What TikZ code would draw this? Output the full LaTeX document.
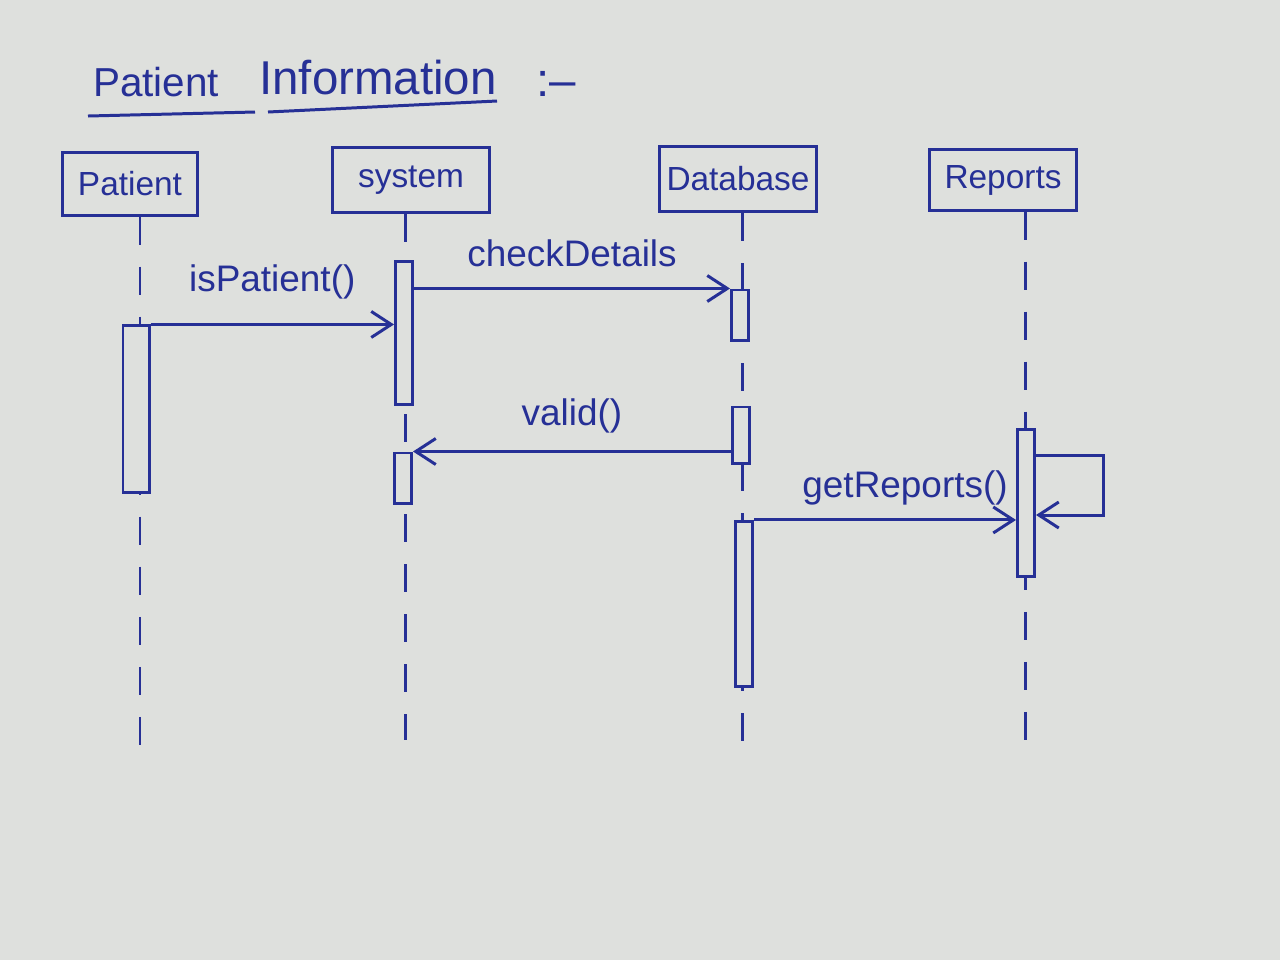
\documentclass[tikz,border=0pt]{standalone}
\usepackage{fontspec}
\setmainfont{Liberation Sans}
\usetikzlibrary{arrows.meta,positioning}
\definecolor{ink}{RGB}{38,48,150}
\definecolor{paper}{RGB}{222,224,221}

\begin{document}
\begin{tikzpicture}[x=0.01cm,y=-0.01cm,line width=0.85pt,draw=ink,text=ink,
                    >={Straight Barb[length=2mm,width=2.6mm]},
                    font=\fontsize{10.5}{12}\selectfont]

  \tikzstyle{obj}  = [draw, minimum height=0.62cm, inner sep=2pt,
                      font=\fontsize{9.5}{11}\selectfont]
  \tikzstyle{act}  = [draw, fill=paper, minimum width=0.17cm, inner sep=0pt]
  \tikzstyle{life} = [dash pattern=on 0.28cm off 0.22cm]
  \tikzstyle{msg}  = [->]
  \tikzstyle{ttl}  = [font=\fontsize{13.5}{15}\selectfont]

  \fill[paper] (0,0) rectangle (1280,960);

  % title
  \node[ttl, font=\fontsize{11.5}{15}\selectfont] (T1) at (156,82) {Patient};
  \node[ttl] (T2) at (378,78) {Information};
  \node[ttl] (T3) at (556,84) {:--};
  \draw (88,116) -- (255,112);
  \draw (268,112) -- (497,101);

  % objects
  \node[obj, minimum width=1.35cm] (P) at (130,184) {Patient};
  \node[obj, minimum width=1.57cm, minimum height=0.65cm] (S) at (411,180) {system};
  \node[obj, minimum width=1.57cm, minimum height=0.65cm] (D) at (738,179) {Database};
  \node[obj, minimum width=1.47cm, minimum height=0.60cm] (R) at (1003,180) {Reports};

  % lifelines
  \coordinate (Pe) at (140,745);
  \coordinate (Se) at (405,740);
  \coordinate (De) at (742,745);
  \coordinate (Re) at (1025,740);
  \draw[life] (P.south -| Pe) -- (Pe);
  \draw[life] (S.south -| Se) -- (Se);
  \draw[life] (D.south -| De) -- (De);
  \draw[life] (R.south -| Re) -- (Re);

  % activations
  \node[act, minimum width=0.26cm, minimum height=1.66cm] (P1) at (136,409) {};
  \node[act, minimum height=1.43cm] (S1) at (404,333) {};
  \node[act, minimum height=0.50cm] (S2) at (403,478) {};
  \node[act, minimum height=0.50cm] (D1) at (740,315) {};
  \node[act, minimum height=0.56cm] (D2) at (741,435) {};
  \node[act, minimum height=1.65cm] (D3) at (744,604) {};
  \node[act, minimum height=1.47cm] (R1) at (1026,503) {};

  % messages
  \draw[msg] (P1.north east) -- node[above=0.12cm] {isPatient()} (S1.west |- P1.north east);
  \draw[msg] (S1.east |- D1.north) -- node[above=0.08cm] {checkDetails} (D1.north west);
  \draw[msg] (D2.west |- S2.north) -- node[above=0.05cm] {valid()} (S2.north east);
  \draw[msg] (D3.north east) -- node[above=0.02cm, xshift=0.2cm] {getReports()} (R1.west |- D3.north east);

  % self call
  \coordinate (Rt) at (1103,455);
  \coordinate (Rb) at (1103,515);
  \draw[msg] (R1.east |- Rt) -- (Rt) -- (Rb) -- (R1.east |- Rb);
\end{tikzpicture}
\end{document}
